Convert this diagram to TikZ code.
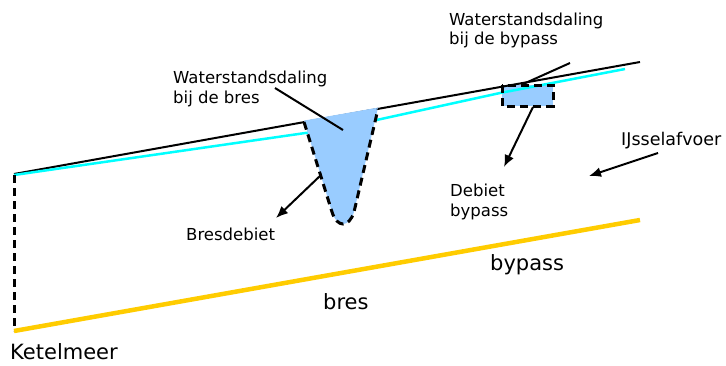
\documentclass[tikz,border=0pt]{standalone}
\usepackage{fontspec}
\setmainfont{DejaVu Sans}
\usetikzlibrary{arrows.meta}
\definecolor{waterblue}{HTML}{99CCFF}
\definecolor{cyanline}{HTML}{00FFFF}
\definecolor{dikegold}{HTML}{FFCC00}
\begin{document}
\begin{tikzpicture}[x=1pt,y=-1pt,
  lbl/.style={anchor=base west,inner sep=0pt,font=\fontsize{16.5}{20}\selectfont},
  big/.style={anchor=base west,inner sep=0pt,font=\fontsize{21}{25}\selectfont},
  ptr/.style={line width=2pt},
  arr/.style={line width=2pt,-{Latex[length=12pt,width=10pt]}},
  dsh/.style={line width=3pt,dash pattern=on 8pt off 5pt},
  dike/.style={line width=2pt,black},
  level/.style={line width=2.5pt,cyanline},
  bottom/.style={line width=4.5pt,dikegold}
]
\useasboundingbox (0,0) rectangle (726,365);
% coordinates
\coordinate (dikeL) at (14,174);
\coordinate (dikeR) at (640,62);
\coordinate (lvlL) at (14,175);
\coordinate (lvlA) at (340,128);
\coordinate (lvlB) at (500,93);
\coordinate (lvlR) at (625,69);
\coordinate (botL) at (14,331);
\coordinate (botR) at (640,220);
\coordinate (bresTL) at (304,122);
\coordinate (bresTR) at (378,109);
\coordinate (bresBL) at (332,212);
\coordinate (bresBR) at (354,212);
% bypass fill
\fill[waterblue] (502,85) rectangle (553,106);
% dike and water level
\draw[dike] (dikeL) -- (dikeR);
\draw[level] (lvlL) -- (lvlA) -- (lvlB) -- (lvlR);
% breach fill
\fill[waterblue] (304,120.6) -- (378,107.6) -- (bresBR) .. controls (349,228) and (337,228) .. (bresBL) -- cycle;
\draw[dsh] (bresTL) -- (bresBL) .. controls (337,228) and (349,228) .. (bresBR) -- (bresTR);
% bypass dashed box
\draw[dsh] (502,85) rectangle (553,106);
% vertical dashed at Ketelmeer
\draw[dsh] (lvlL) -- (botL);
% bottom line
\draw[bottom] (botL) -- (botR);
% texts
\node[lbl] (wb1) at (173,83) {Waterstandsdaling};
\node[lbl] (wb2) at (173,103) {bij de bres};
\node[lbl] (wp1) at (449,25) {Waterstandsdaling};
\node[lbl] (wp2) at (449,44) {bij de bypass};
\node[lbl] (bd) at (186,240) {Bresdebiet};
\node[lbl] (db1) at (450,196) {Debiet};
\node[lbl] (db2) at (450,216) {bypass};
\node[lbl,font=\fontsize{17.5}{20}\selectfont] (ijs) at (621,145) {IJsselafvoer};
\node[big] (bres) at (323,309) {bres};
\node[big] (byp) at (490,270) {bypass};
\node[big] (ket) at (10,359) {Ketelmeer};
% pointers
\coordinate (p1s) at (275,88);
\coordinate (p1e) at (343,130);
\coordinate (p2s) at (570,63);
\coordinate (p2e) at (521,85);
\draw[ptr] (p1s) -- (p1e);
\draw[ptr] (p2s) -- (p2e);
% arrows
\coordinate (a1s) at (321,175);
\coordinate (a1e) at (276,218);
\coordinate (a2s) at (533,107);
\coordinate (a2e) at (504,167);
\coordinate (a3s) at (658,153);
\coordinate (a3e) at (589,176);
\draw[arr] (a1s) -- (a1e);
\draw[arr] (a2s) -- (a2e);
\draw[arr] (a3s) -- (a3e);
\end{tikzpicture}
\end{document}
